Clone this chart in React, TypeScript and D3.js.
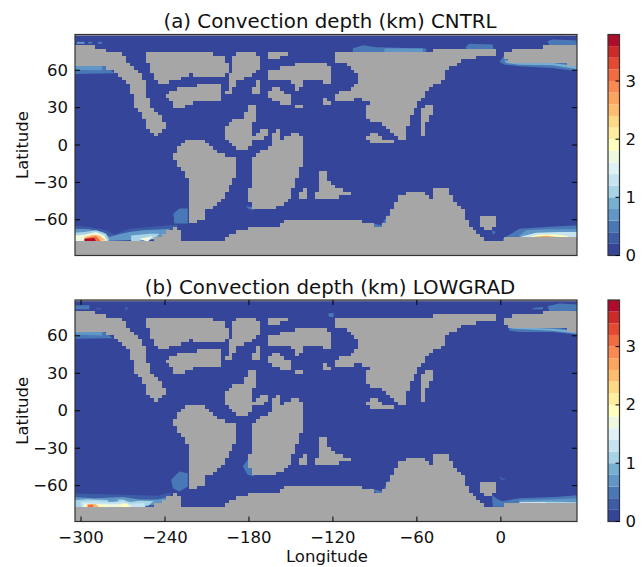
import React from "react";
import * as d3 from "d3";

type P = [number, number];
type Patch = [number, P[]];

const lonTicks = [-300, -240, -180, -120, -60, 0];
const latTicks = [-60, -30, 0, 30, 60];
const cbarTicks = [0, 1, 2, 3];
const levels = d3.range(1, 19).map((k) => k * 0.2);
const levelColors = ["#35459a","#3d5ca6","#4a78b6","#6097c6","#76afd2","#a6d3e5","#c5e4ef","#dff1f5","#eef8df","#ffffc0","#ffeea0","#fed983","#febd6e","#fda45e","#fb8a52","#f26c41","#e24a31","#cc2a26","#ae0c2a"];
const oceanColor = "#35459a";
const landColor = "#a6a6a6";
const panelTitles = ["(a) Convection depth (km) CNTRL", "(b) Convection depth (km) LOWGRAD"];

const landWest: P[] = [[-306,79.3],[-291.6,79.3],[-284.4,76.6],[-271.4,74],[-266.6,67.2],[-261.8,60.5],[-255.9,57],[-253.5,44.4],[-251.1,32.3],[-240.4,18.8],[-239.9,12.9],[-246.4,7.6],[-251.1,10.2],[-254.7,20.2],[-261.8,32.3],[-265.4,49.8],[-274.9,57.8],[-284.4,64],[-306,64]];
const landEast: P[] = [[1.8,72.6],[10.9,77.4],[56,80.1],[56,63.7],[37,65.9],[13.3,66.7],[2.5,67.8]];
const landB: P[] = [[-252.3,74.8],[-234.4,75.8],[-213,74.8],[-197.5,70.5],[-194.7,63.2],[-197.5,53.8],[-213,55.1],[-221.4,56.5],[-234.4,51.1],[-244,49.2],[-248.7,56.5],[-252.3,65.9]];
const landC: P[] = [[-239.7,39.8],[-233.3,44.4],[-215.4,48.4],[-201.1,48.4],[-199.9,36.3],[-214.2,36.3],[-224.9,31],[-233.3,30.4],[-235.6,36.3]];
const landD: P[] = [[-191.6,72.6],[-177.3,74.8],[-171.4,69.9],[-171.4,61.9],[-179.7,55.1],[-189.2,49.8],[-191.6,40.9],[-196.4,41.7],[-195.2,51.1],[-191.6,61.9]];
const landE: P[] = [[-167.8,74],[-153.5,75.8],[-153.5,72.1],[-163,67.2],[-167.8,68.6]];
const landF: P[] = [[-177.8,40.3],[-174.9,50.6],[-171.4,51.1],[-171.8,44.4],[-174.9,39]];
const landG: P[] = [[-167.8,57.8],[-163,61.3],[-148.7,63.2],[-144,65.9],[-129.7,65.9],[-123.6,65.1],[-120.5,52.4],[-120.5,47.9],[-129.7,51.1],[-141.6,51.1],[-144,42.5],[-147.5,45.7],[-148.7,51.6],[-166.6,51.6]];
const landH: P[] = [[-165.9,43],[-160.6,47.6],[-157.1,43.6],[-149.9,39.8],[-149.9,33.6],[-158.3,33.6],[-163,37.1],[-165.9,37.7]];
const landI: P[] = [[-148,33.1],[-142.3,33.1],[-142.3,30.1],[-148,30.1]];
const landJ: P[] = [[-128.4,37],[-123,37],[-122.5,31],[-128.4,31]];
const landAsia: P[] = [[-118.9,74.8],[-84.4,74.8],[-55.8,75.3],[-24.8,77.4],[-15.3,77.4],[-3.9,75.8],[-3.9,71.3],[-14.1,70.5],[-27.2,68.6],[-30.8,64.5],[-37.9,63.2],[-39.6,53.8],[-43.9,49],[-51,47.1],[-53.9,40.3],[-58.6,33.6],[-62.9,26.9],[-64.8,18.8],[-68.9,11.3],[-68.9,5.4],[-73.6,5.4],[-78.4,12.1],[-89.1,18.8],[-97.5,21.5],[-94.4,33.6],[-99.8,38.5],[-107,35],[-118.9,35.5],[-118.9,40.3],[-114.1,43.6],[-108.2,44.4],[-102.7,51.1],[-102.7,57.8],[-108.2,63.2],[-118.9,67.8]];
const landNarrow: P[] = [[-57,25.6],[-53.9,31],[-47,33.1],[-47,28.3],[-52.2,20.2],[-53.9,7.6],[-57.7,7.6],[-57.5,18.8]];
const landSmallE: P[] = [[-95.6,7.6],[-92.7,10.2],[-87.9,9.4],[-84.4,5.4],[-76,3.2],[-76,1.4],[-90.3,1.4],[-95.6,4.1]];
const landK: P[] = [[-195.2,18],[-183.3,22.9],[-180.9,31],[-174.9,31],[-177.3,10.8],[-179.7,-4],[-186.8,-3.2],[-197.5,4],[-198.3,10.8]];
const landK2: P[] = [[-176.6,6.7],[-172.5,12.9],[-167.8,12.9],[-167.3,8.1],[-171.4,4.6],[-176.6,4.6]];
const landL: P[] = [[-176.1,-8],[-165.4,-2.7],[-163,10.8],[-157.8,14.8],[-157,4],[-148.7,10.2],[-142.8,9.4],[-140.9,-2.7],[-142.8,-20.1],[-151.1,-43],[-158.3,-49.7],[-174.9,-52.9],[-180.2,-43],[-178.5,-29.5]];
const landM: P[] = [[-228.5,2.7],[-213,4],[-201.1,-6.7],[-189.2,-10.7],[-189.9,-26.9],[-198.7,-41.6],[-203.5,-49.7],[-211.8,-51],[-211.8,-57.8],[-216.6,-61.8],[-223.7,-61.8],[-221.4,-32.2],[-227.3,-21.5],[-234.4,-10.7],[-230.9,-4]];
const landN1: P[] = [[-144.4,-43],[-141.6,-34.9],[-137.3,-33.6],[-138,-40.3],[-140.4,-44.3]];
const landN2: P[] = [[-133.3,-43.5],[-130.9,-36.3],[-128.5,-21.5],[-124.4,-21.5],[-122.5,-30.9],[-117.7,-34.9],[-108.2,-37.6],[-108.6,-41.6],[-129.6,-42.2]];
const landRound: P[] = [[-14.8,-60],[-14.8,-65],[-11,-68],[-7,-68],[-3.2,-65],[-3.2,-60],[-7,-56.5],[-11,-56.5]];
const landSouth: P[] = [[-306,-76.6],[-253.5,-76.6],[-244,-73.9],[-235.6,-67.2],[-230.9,-64],[-229.2,-71.2],[-226.8,-76.6],[-198.7,-76.6],[-194,-71.2],[-182.1,-68.5],[-179.7,-65.8],[-158.3,-65.8],[-153.5,-60.5],[-140.4,-59.1],[-122.5,-58.6],[-114.1,-59.9],[-93.9,-61.8],[-85.6,-67.2],[-79.6,-56.4],[-77.2,-48.4],[-72.5,-40.8],[-67.7,-39],[-55.8,-38.4],[-51,-40.3],[-49.8,-43],[-47.5,-34.9],[-37.9,-34.9],[-34.4,-44.3],[-27.2,-51],[-23.6,-61.8],[-17.7,-71.2],[-10.6,-76.6],[1.4,-76.6],[2.5,-74.7],[56,-74.7],[56,-92],[-306,-92]];
const landPolygons: P[][] = [landWest,landEast,landB,landC,landD,landE,landF,landG,landH,landI,landJ,landAsia,landNarrow,landSmallE,landK,landK2,landL,landM,landN1,landN2,landRound,landSouth];
const northCap: P[] = [[-306,87.6],[56,87.6],[56,90],[-306,90]];

const cntrlPatches: Patch[] = [
  [0.3,[[-306,-64.5],[-294,-65.8],[-282.1,-68.5],[-276.1,-71.8],[-265.4,-67.2],[-236.8,-64.5],[-230.9,-64],[-230.9,-75.2],[-306,-77.9]]],
  [0.7,[[-306,-67.2],[-294,-67.7],[-284.4,-69.9],[-279.7,-73.9],[-271.4,-71.2],[-265.4,-69.9],[-255.9,-68.5],[-241.6,-67.7],[-236.8,-67.2],[-236.8,-75.2],[-306,-77.9]]],
  [1.1,[[-306,-70.4],[-297.6,-69.9],[-289.2,-68.5],[-282.1,-71.2],[-279.7,-76.6],[-306,-77.9]]],
  [1.1,[[-264.2,-72.6],[-251.1,-71.2],[-244,-71.2],[-247.5,-75.2],[-264.2,-77.9]]],
  [1.7,[[-306,-72.6],[-297.6,-72],[-289.2,-69.9],[-283.3,-72.6],[-280.9,-77.4],[-306,-77.9]]],
  [1.7,[[-258.3,-75.2],[-248.7,-73.1],[-252.3,-77.9]]],
  [2.5,[[-297.6,-73.9],[-291.6,-72],[-286.8,-72.6],[-282.1,-76.6],[-297.6,-77.9]]],
  [3.1,[[-296.4,-74.7],[-289.2,-73.1],[-285.6,-77.4],[-297.6,-77.9]]],
  [3.7,[[-297.6,-75.2],[-290.4,-74.7],[-289.2,-77.4],[-297.6,-77.9]]],
  [0.5,[[-234,-55],[-229.7,-51],[-223.7,-51],[-223.7,-63],[-233.3,-63]]],
  [0.5,[[-306,65],[-284,65],[-276,57.5],[-306,57]]],
  [0.7,[[-306,65],[-285,65],[-285,60],[-306,60.5]]],
  [0.7,[[-303,82.8],[-297.5,82.8],[-297.5,81.2],[-303,81.2]]],
  [0.5,[[-295,82.8],[-292,82.8],[-292,81.4],[-295,81.4]]],
  [0.5,[[-288,82.8],[-285,82.8],[-285,81.2],[-288,81.2]]],
  [0.5,[[-182.5,-49.2],[-177.3,-49.7],[-176.8,-52.4],[-179.7,-51.6]]],
  [0.4,[[-105.8,77.4],[-98.6,80.1],[-89.1,78.5],[-53.4,77.4],[-53.4,74],[-105.8,74]]],
  [0.7,[[-83.2,77.4],[-55.8,77.4],[-55.8,74],[-83.2,74]]],
  [0.4,[[-24.8,79.3],[-22.5,81.2],[-5.8,80.7],[-5.3,77],[-24.8,77]]],
  [0.5,[[-1,66.7],[2.5,72],[56,68],[56,59],[37,61.8],[13.3,63.2],[3,64.5]]],
  [0.9,[[2.5,67.8],[29.9,67.2],[41.8,65.1],[56,63.2],[56,60.5],[37,64],[13.3,64.5],[3.7,65.9]]],
  [0.4,[[33.5,83.4],[37,84.7],[56,83.9],[56,80.1],[34.7,79.3]]],
  [0.5,[[-93.9,-62.3],[-85.6,-64.5],[-80.8,-56.4],[-78.4,-56.9],[-79.6,-64.5],[-85.6,-67.7],[-93.9,-64.5]]],
  [0.5,[[-6,-68.5],[-3.5,-69.8],[-6,-72]]],
  [0.4,[[1.4,-75.2],[13.3,-67.2],[32.3,-65.8],[56,-64.5],[56,-77],[1.4,-77.9]]],
  [0.7,[[13.3,-72.6],[18,-68.5],[32.3,-67.7],[56,-67.7],[56,-75.5],[13.3,-75.5]]],
  [1.3,[[14.5,-73.4],[25.2,-70.4],[41.8,-69.9],[56,-69.9],[56,-76],[14.5,-76]]],
  [1.9,[[20.4,-73.9],[27.5,-71.8],[39.4,-71.8],[47.8,-73.1],[47.8,-76],[20.4,-76]]],
  [2.7,[[22.8,-73.9],[32.3,-72.8],[40.6,-73.9],[40.6,-76],[22.8,-76]]],
];

const lowgradPatches: Patch[] = [
  [0.3,[[-306,-66.3],[-283,-66.8],[-263,-67.5],[-245,-68],[-236,-65.5],[-236,-78],[-306,-78]]],
  [0.7,[[-306,-69],[-290,-70],[-270,-69],[-263,-70.3],[-258,-71],[-245,-71],[-238,-69.5],[-243,-75],[-306,-78]]],
  [1.1,[[-306,-72],[-296,-70.8],[-282,-71.5],[-270,-71],[-265,-73],[-258,-72],[-248,-72.5],[-252,-76],[-306,-78]]],
  [0.7,[[-282,-70],[-275,-70.5],[-273,-72.5],[-280,-73]]],
  [1.3,[[-300,-73],[-290,-72.2],[-284,-73],[-276,-73.5],[-270,-72.2],[-265,-74.5],[-255,-73.8],[-254,-77],[-300,-78]]],
  [1.6,[[-298,-74.3],[-282,-74.8],[-266,-74.8],[-263,-78],[-298,-78]]],
  [1.9,[[-297,-75],[-282,-75.4],[-282,-78],[-297,-78]]],
  [1.9,[[-271,-74.2],[-267,-74.2],[-266,-78],[-272,-78]]],
  [2.5,[[-296,-74.9],[-289.5,-74.7],[-287,-77],[-296,-78]]],
  [3.1,[[-295,-75.2],[-291.6,-75],[-291,-77],[-295,-77]]],
  [0.5,[[-235.6,-55.3],[-229.7,-48.6],[-223.7,-50],[-223.7,-60.7],[-229.7,-64.7],[-234.4,-62]]],
  [0.5,[[-184.4,-44.6],[-180.9,-39.2],[-178.5,-39.2],[-176.1,-52.6],[-180.9,-51.3]]],
  [0.4,[[-306,64.3],[-284.4,64.3],[-277.3,58.1],[-306,57.6]]],
  [0.7,[[-306,63.8],[-285,63.8],[-285,60.3],[-306,61.1]]],
  [0.5,[[-305,84.5],[-294,84.5],[-294,81.2],[-305,81.2]]],
  [0.3,[[-289,82.5],[-285.6,82.5],[-285.6,81],[-289,81]]],
  [0.3,[[-269,83],[-265.9,83],[-267.8,79]]],
  [0.5,[[-123.6,77.7],[-119.6,78.5],[-119.6,75],[-122.5,75]]],
  [0.5,[[33.5,83.9],[41.8,85.8],[56,85],[56,80.4],[34.7,79.1]]],
  [0.5,[[22.8,82.3],[30,83],[30,81.2],[22.8,81.2]]],
  [0.5,[[4.9,67.8],[37,67],[56,64.3],[56,60.8],[37,63],[13.3,63],[6.1,64.3]]],
  [0.8,[[4.9,67],[37,65.6],[56,63.5],[56,61.6],[34.7,64.3],[8.5,65.6]]],
  [0.5,[[-93.9,-62],[-84.4,-64.7],[-80.8,-56.7],[-77.7,-55.3],[-79.6,-63.4],[-84.4,-67.4],[-91.5,-64.7]]],
  [0.5,[[-6.3,-67.4],[-3.4,-70.1],[1.4,-72.8],[1.4,-76.8],[-5.8,-76.8]]],
  [0.4,[[-1,-72.8],[13.3,-70.1],[41.8,-68.8],[56,-67.4],[56,-76],[-1,-76.8]]],
  [0.7,[[13.3,-71.5],[37,-70.9],[56,-70.1],[56,-76],[13.3,-76]]],
  [1.1,[[13.3,-73],[37,-72.8],[56,-73.2],[56,-76],[13.3,-76]]],
  [1.5,[[13.3,-73.4],[32,-73.2],[32,-76],[13.3,-76]]],
  [0.3,[[-1.5,-52.6],[2,-54],[3.9,-55.9],[-0.3,-55.3]]],
  [0.3,[[-121.3,-40.5],[-117.7,-41.3],[-118.9,-44.6]]],
];

const W = 644, H = 567;
const left = 75, right = 577, cbLeft = 608, cbRight = 619.5;
const font = "'DejaVu Sans', sans-serif";
const lonDomain: P = [-304.3, 54.4];
const latDomain: P = [-88.7, 88.7];
const color = d3.scaleThreshold<number, string>().domain(levels).range(levelColors);
const cellLon = 2.8125, cellLat = 2.8;
const lonCells = d3.range(-304.3, 54.4, cellLon);
const latCells = d3.range(-90.8, 91, cellLat);
const minus = (n: number) => String(n).replace("-", "\u2212");

const x = d3.scaleLinear().domain(lonDomain).range([left, right]);
const lineGen = d3.line<P>();

function landPath(y: d3.ScaleLinear<number, number>) {
  let out = "";
  latCells.forEach((lat) => {
    let start = -1;
    lonCells.forEach((lon, i) => {
      const cLon = lon + cellLon / 2, cLat = lat + cellLat / 2;
      const inside = landPolygons.some((p) => d3.polygonContains(p, [cLon, cLat]));
      const last = i === lonCells.length - 1;
      if (inside && start < 0) start = i;
      if (start >= 0 && (!inside || last)) {
        const end = inside && last ? i + 1 : i;
        const x0 = x(lonCells[start]), x1 = x(lonCells[0] + end * cellLon);
        const y0 = y(lat + cellLat), y1 = y(lat);
        out += `M${x0},${y0}L${x1},${y0}L${x1},${y1}L${x0},${y1}Z`;
        start = -1;
      }
    });
  });
  return out;
}

function Panel({ top, bottom, title, patches, xLabels, xTicks, clipId }: { top: number; bottom: number; title: string; patches: Patch[]; xLabels: boolean; xTicks: boolean; clipId: string }) {
  const y = d3.scaleLinear().domain(latDomain).range([bottom, top]);
  const cb = d3.scaleLinear().domain([0, 3.8]).range([bottom, top]);
  const spine = "#333333";
  return (
    <g fontFamily={font} fill="#111">
      <clipPath id={clipId}><rect x={left} y={top} width={right - left} height={bottom - top} /></clipPath>
      <rect x={left} y={top} width={right - left} height={bottom - top} fill={oceanColor} />
      <g clipPath={`url(#${clipId})`}>
        <g filter="url(#soft)">
          {patches.map(([v, poly], i) => (
            <path key={i} d={lineGen(poly.map((p) => [x(p[0]), y(p[1])] as P)) + "Z"} fill={color(v)} />
          ))}
        </g>
        <path d={landPath(y)} fill={landColor} shapeRendering="crispEdges" filter="url(#edge)" />
        <path d={lineGen(northCap.map((p) => [x(p[0]), y(p[1])] as P)) + "Z"} fill={landColor} />
      </g>
      <rect x={left} y={top} width={right - left} height={bottom - top} fill="none" stroke={spine} strokeWidth={1.2} />
      {latTicks.map((t) => (
        <g key={t}>
          <line x1={left} x2={left + 5} y1={y(t)} y2={y(t)} stroke="#000" />
          <line x1={right - 5} x2={right} y1={y(t)} y2={y(t)} stroke="#000" />
          <text x={left - 7} y={y(t)} textAnchor="end" dominantBaseline="central" fontSize={16.5}>{minus(t)}</text>
        </g>
      ))}
      {xTicks && lonTicks.map((t) => (
        <g key={t}>
          <line x1={x(t)} x2={x(t)} y1={top} y2={top + 5} stroke="#000" />
          <line x1={x(t)} x2={x(t)} y1={bottom - 5} y2={bottom} stroke="#000" />
          {xLabels && <text x={x(t)} y={bottom + 21} textAnchor="middle" fontSize={16.5}>{minus(t)}</text>}
        </g>
      ))}
      <text x={330} y={top - 6.5} textAnchor="middle" fontSize={19.8}>{title}</text>
      <text transform={`translate(28,${(top + bottom) / 2}) rotate(-90)`} textAnchor="middle" fontSize={16.5}>Latitude</text>
      {levelColors.map((c, i) => (
        <rect key={i} x={cbLeft} width={cbRight - cbLeft} y={cb(0.2 * (i + 1))} height={cb(0) - cb(0.2)} fill={c} />
      ))}
      <rect x={cbLeft} y={top} width={cbRight - cbLeft} height={bottom - top} fill="none" stroke={spine} strokeWidth={1.2} />
      {cbarTicks.map((t) => (
        <g key={t}>
          <line x1={cbRight - 4} x2={cbRight} y1={cb(t)} y2={cb(t)} stroke="#000" />
          <text x={cbRight + 6} y={cb(t)} dominantBaseline="central" fontSize={16.5}>{t}</text>
        </g>
      ))}
    </g>
  );
}

export default function App() {
  return (
    <svg width={W} height={H} style={{ position: "absolute", left: 0, top: 0, background: "#fff" }}>
      <defs>
        <filter id="soft" x="-5%" y="-5%" width="110%" height="110%">
          <feGaussianBlur stdDeviation="0.55" />
        </filter>
        <filter id="edge" x="-2%" y="-2%" width="104%" height="104%">
          <feGaussianBlur stdDeviation="0.4" />
        </filter>
      </defs>
      <Panel top={34.5} bottom={255.5} title={panelTitles[0]} patches={cntrlPatches} xLabels={false} xTicks={false} clipId="ca" />
      <Panel top={300} bottom={521.5} title={panelTitles[1]} patches={lowgradPatches} xLabels={true} xTicks={true} clipId="cb" />
      <text x={327} y={562} textAnchor="middle" fontSize={16.5} fontFamily={font} fill="#111">Longitude</text>
    </svg>
  );
}
